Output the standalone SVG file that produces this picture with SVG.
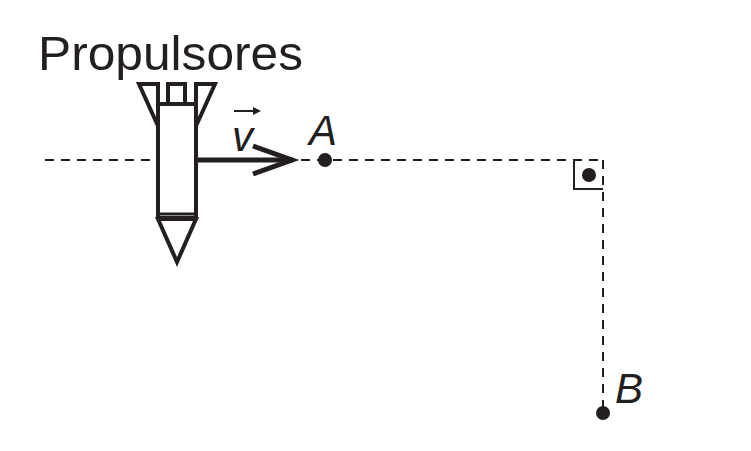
<svg xmlns="http://www.w3.org/2000/svg" width="751" height="451" viewBox="0 0 751 451">
<style>
.d{stroke:#231f20;stroke-width:2;stroke-dasharray:9,7;fill:none}
.s{stroke:#231f20;stroke-width:4;fill:#fff}
.t{font-family:"Liberation Sans",Arial,sans-serif;fill:#231f20}
</style>
<rect width="751" height="451" fill="#fff"/>
<g id="connectors">
<line class="d" x1="45" y1="160" x2="603" y2="160"/>
<line class="d" x1="603" y1="160" x2="603" y2="410"/>
<path d="M574 161V189H603" stroke="#231f20" stroke-width="2" fill="none"/>
</g>
<g id="rocket">
<polygon class="s" points="139,84 158,84 158,126"/>
<polygon class="s" points="215,84 196,84 196,126"/>
<rect class="s" x="168" y="84" width="17" height="20"/>
<rect class="s" x="158" y="104" width="38" height="114"/>
<line x1="158" y1="214" x2="196" y2="214" stroke="#231f20" stroke-width="3"/>
<polygon class="s" points="158,219 196,219 177,262"/>
<text class="t" x="38" y="70" font-size="48" textLength="265" lengthAdjust="spacingAndGlyphs">Propulsores</text>
</g>
<g id="velocity">
<line x1="196" y1="160" x2="293" y2="160" stroke="#231f20" stroke-width="5"/>
<path d="M253,146 L292,160 L253,174" stroke="#231f20" stroke-width="5" fill="none"/>
<text class="t" x="232" y="151" font-size="42" font-style="italic">v</text>
<path d="M234 111H257" stroke="#231f20" stroke-width="2"/>
<path d="M253 107L261 111L253 115Z" fill="#231f20"/>
</g>
<g id="A"><circle cx="325" cy="160" r="7" fill="#231f20"/><text class="t" x="309" y="145" font-size="42" font-style="italic">A</text></g>
<g id="corner"><circle cx="589" cy="175" r="7" fill="#231f20"/></g>
<g id="B"><circle cx="603" cy="413" r="7" fill="#231f20"/><text class="t" x="615" y="403" font-size="42" font-style="italic">B</text></g>
</svg>
